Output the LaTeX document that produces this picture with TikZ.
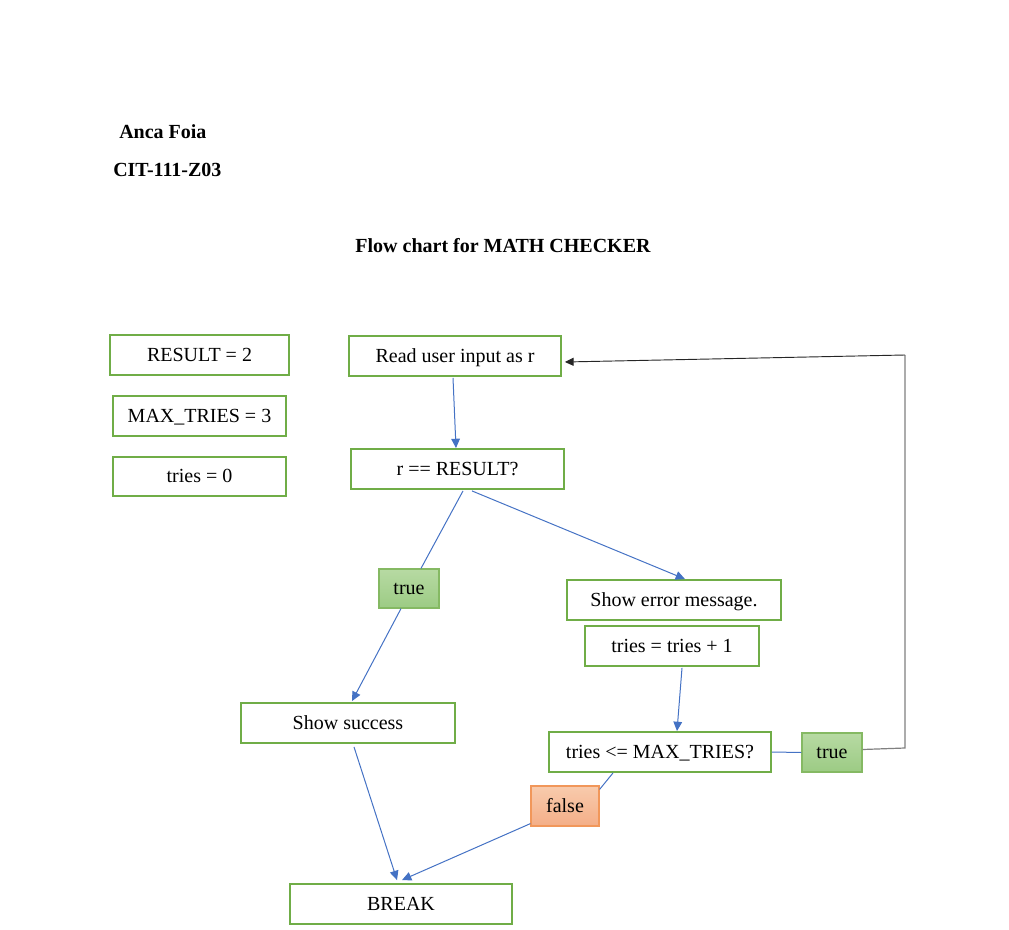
\documentclass[tikz,border=0pt]{standalone}
\usepackage{fontspec}
\setmainfont{Liberation Serif}
\usetikzlibrary{arrows.meta,calc}
\definecolor{grn}{HTML}{70AD47}
\definecolor{blu}{HTML}{4472C4}
\definecolor{gtop}{HTML}{B7DAA3}
\definecolor{gbot}{HTML}{9CCB84}
\definecolor{otop}{HTML}{F8CBAD}
\definecolor{obot}{HTML}{F4AE87}
\definecolor{oline}{HTML}{ED7D31}
\begin{document}
\begin{tikzpicture}[x=0.75pt,y=-0.75pt,
  txt/.style={font=\fontsize{15}{18}\selectfont, text height=12pt, text depth=3pt},
  head/.style={font=\fontsize{15}{18}\selectfont\bfseries, inner sep=0pt},
  box/.style={draw=grn, line width=1.4pt, fill=white, inner sep=0pt, txt},
  tbox/.style={draw=grn!85!white, line width=0.9pt, top color=gtop, bottom color=gbot, inner sep=0pt, txt, minimum width=60*0.75pt, minimum height=39*0.75pt},
  fbox/.style={draw=oline!80!white, line width=0.9pt, top color=otop, bottom color=obot, inner sep=0pt, txt, minimum width=68*0.75pt, minimum height=40*0.75pt},
  conn/.style={draw=blu, line width=0.75pt},
  arr/.style={conn, -{Triangle[length=7pt,width=6.5pt]}},
  loopl/.style={draw=gray, line width=0.9pt}
]
\useasboundingbox (0,0) rectangle (1009,930);

% headings
\node[head, anchor=base west] (name) at (119,138.5) {Anca Foia};
\node[head, anchor=base west] (course) at (113,176.5) {CIT-111-Z03};
\node[head, anchor=base] (title) at (503,252.5) {Flow chart for MATH CHECKER};

% variables
\node[box, minimum width=179*0.75pt, minimum height=40*0.75pt] (res) at (199.5,355) {RESULT = 2};
\node[box, minimum width=173*0.75pt, minimum height=40*0.75pt] (max) at (199.5,416) {MAX\_TRIES = 3};
\node[box, minimum width=173*0.75pt, minimum height=39*0.75pt] (tries) at (199.5,476.5) {tries = 0};

% flow
\node[box, minimum width=212*0.75pt, minimum height=40*0.75pt] (read) at (455,356) {Read user input as r};
\node[box, minimum width=213*0.75pt, minimum height=40*0.75pt] (cmp) at (457.5,469) {r == RESULT?};
\node[tbox] (t1) at (409,588.5) {true};
\node[box, minimum width=214*0.75pt, minimum height=40*0.75pt] (err) at (674,600) {Show error message.};
\node[box, minimum width=174*0.75pt, minimum height=40*0.75pt] (inc) at (672,646) {tries = tries + 1};
\node[box, minimum width=214*0.75pt, minimum height=40*0.75pt] (succ) at (348,723) {Show success};
\node[box, minimum width=222*0.75pt, minimum height=40*0.75pt] (le) at (660,752) {tries <= MAX\_TRIES?};
\node[tbox] (t2) at (832,752.5) {true};
\node[fbox] (f) at (565,806) {false};
\node[box, minimum width=222*0.75pt, minimum height=40*0.75pt] (brk) at (401,904) {BREAK};

% connectors
\draw[arr] ($(read.south)+(-2,1)$) -- ($(cmp.north)+(-1.5,0)$);
\draw[conn] ($(cmp.south)+(5.5,1)$) -- ($(t1.north)+(12,0)$);
\draw[arr] ($(t1.south)+(-8,0)$) -- ($(succ.north)+(4,-1)$);
\draw[arr] ($(cmp.south)+(14.5,1)$) -- ($(err.north)+(11,0)$);
\draw[arr] ($(inc.south)+(10,1)$) -- ($(le.north)+(17,0)$);
\draw[conn] (le.east) -- (t2.west);
\coordinate (c1) at (905,748);
\coordinate (c2) at (905,355);
\draw[loopl] ($(t2.east)+(0,-3)$) -- (c1) -- (c2);
\draw[line width=0.7pt, black!85, -{Triangle[length=6.5pt,width=6pt]}] (c2) -- ($(read.east)+(3,6)$);
\draw[conn] ($(le.south)+(-47,0)$) -- ($(f.north east)+(0,4)$);
\draw[arr] ($(f.south west)+(0,-3)$) -- ($(brk.north)+(1,-3)$);
\draw[arr] ($(succ.south)+(6,3)$) -- ($(brk.north)+(-4,-3)$);
\end{tikzpicture}
\end{document}
